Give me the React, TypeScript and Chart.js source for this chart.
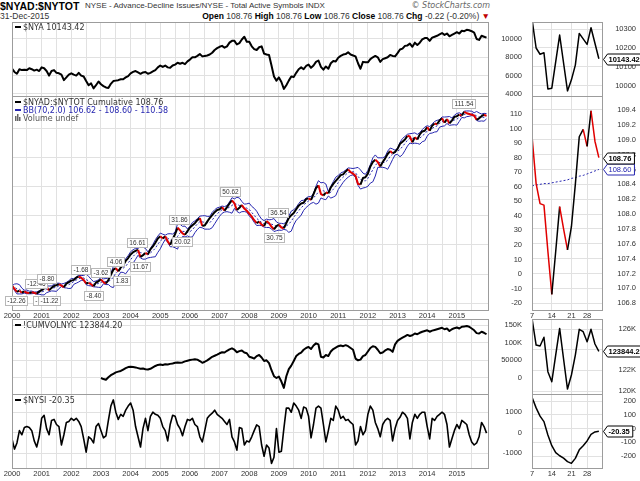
import React, { useEffect, useRef } from "react";
import { Chart, registerables } from "chart.js";

Chart.register(...registerables);

// ---------------- DATA ----------------
const FIRST_YEAR = 2000;
const yearLabels = [2000, 2001, 2002, 2003, 2004, 2005, 2006, 2007, 2008, 2009, 2010, 2011, 2012, 2013, 2014, 2015];

// monthly values, first = 1 Jan 2000 ... last = 31 Dec 2015
const nyaMonthly = [
  6760, 6400, 6200, 6700, 6600, 6650, 6600, 6800, 6700, 6550, 6650, 6500,
  6900, 6800, 6500, 6000, 6500, 6600, 6300, 6250, 6100, 5500, 5800, 6100,
  6250, 6100, 6000, 6300, 6000, 5900, 5400, 4950, 5150, 4600, 4950, 5350,
  5050, 4850, 4700, 4650, 5100, 5400, 5450, 5500, 5600, 5600, 5800, 5950,
  6250, 6400, 6500, 6350, 6200, 6350, 6400, 6200, 6300, 6450, 6600, 6900,
  7100, 6950, 7100, 6900, 6850, 7100, 7200, 7400, 7300, 7400, 7250, 7550,
  7750, 8000, 8000, 8150, 8350, 8100, 8150, 8200, 8300, 8500, 8800, 9000,
  9150, 9250, 9050, 9200, 9600, 9800, 9800, 9400, 9550, 9950, 10250, 9700,
  9700, 9200, 8900, 8800, 9100, 9200, 8400, 8300, 8250, 7100, 5900, 5450,
  5800, 5300, 4550, 4950, 5450, 5900, 5850, 6300, 6700, 6900, 6700, 7050,
  7200, 6850, 7100, 7500, 7650, 6950, 6650, 7000, 6750, 7350, 7600, 7550,
  7950, 8150, 8300, 8350, 8550, 8300, 8200, 8100, 7350, 6750, 7500, 7450,
  7450, 7800, 8000, 8150, 8000, 7500, 7800, 7900, 8000, 8250, 8150, 8100,
  8450, 8850, 8950, 9250, 9300, 9500, 9150, 9600, 9350, 9600, 9950, 10100,
  10100, 9800, 10150, 10250, 10350, 10500, 10650, 10450, 10600, 10300, 10450, 10600,
  10750, 10600, 10900, 10850, 11000, 10950, 10850, 10700, 10000, 9900, 10350, 10250,
  10143.42,
];

const adLineMonthly = [
  -8.0, -10.2, -12.26, -11.4, -12.8, -11.9, -12.9, -13.1, -12.46, -12.9, -13.55, -12.0,
  -11.0, -9.8, -8.8, -11.22, -9.5, -8.2, -7.6, -7.0, -8.0, -9.0, -6.5, -5.5,
  -4.5, -4.0, -2.5, -1.68, -2.5, -4.0, -6.5, -6.0, -7.0, -8.4, -5.8, -5.0,
  -3.62, -5.5, -6.5, -4.2, -0.5, 3.0, 4.06, 1.83, 4.5, 6.0, 9.0, 11.0,
  13.5, 15.0, 16.0, 16.61, 11.67, 13.0, 14.5, 13.5, 17.0, 19.0, 21.5, 24.5,
  26.0, 24.5, 26.0, 22.5, 20.02, 24.0, 27.5, 31.86, 30.0, 28.0, 27.0, 29.5,
  32.0, 33.5, 35.0, 37.0, 38.5, 33.0, 33.5, 36.0, 38.5, 40.5, 42.5, 44.0,
  44.5, 46.0, 43.5, 46.0, 48.5, 50.62, 48.5, 44.0, 45.5, 47.5, 45.0, 43.5,
  41.5, 39.5, 37.0, 35.0, 36.0, 34.0, 33.0, 36.54, 35.0, 32.5, 30.75, 33.0,
  34.0, 32.0, 31.5, 35.0, 38.5, 40.5, 42.0, 44.5, 47.0, 48.5, 49.0, 51.5,
  52.0, 51.0, 55.0, 59.0, 61.0, 55.0, 54.0, 56.0, 55.5, 59.5, 62.0, 64.0,
  66.0, 68.0, 68.5, 70.5, 72.0, 70.0, 69.0, 67.5, 62.0, 61.5, 66.0, 66.5,
  69.0, 74.0, 77.0, 78.5, 77.0, 74.0, 77.0, 79.5, 82.5, 84.5, 83.0, 84.0,
  86.0, 89.5, 91.0, 92.5, 95.0, 94.5, 90.5, 94.0, 92.5, 96.0, 98.0, 98.5,
  101.0, 98.5, 102.0, 103.5, 103.0, 105.5, 107.0, 104.0, 106.5, 103.5, 105.5, 108.0,
  108.5, 109.5, 109.0, 111.54, 110.5, 110.0, 109.5, 109.0, 106.0, 107.0, 108.5, 109.5,
  108.76,
];

// thousands of shares, series starts in 2003
const cumVolKMonthly = [
  null, null, null, null, null, null, null, null, null, null, null, null,
  null, null, null, null, null, null, null, null, null, null, null, null,
  null, null, null, null, null, null, null, null, null, null, null, null,
  0, -3, -5, 2, 8, 12, 16, 18, 20, 24, 28, 31,
  32, 31, 30, 28, 26, 27, 25, 24, 26, 30, 34, 37,
  38, 37, 39, 38, 40, 41, 43, 44, 43, 44, 47, 49,
  51, 52, 53, 52, 48, 43, 46, 50, 55, 60, 63, 66,
  70, 73, 72, 77, 81, 84, 80, 73, 76, 78, 72, 70,
  60, 58, 55, 62, 65, 58, 48, 50, 42, 22, 5, 0,
  4, -10, -28, 5, 25, 35, 48, 62, 68, 72, 80, 85,
  88, 82, 92, 98, 95, 60, 58, 65, 62, 75, 82, 86,
  90, 92, 90, 93, 90, 85, 80, 55, 50, 52, 62, 65,
  75, 85, 90, 88, 80, 70, 72, 78, 82, 80, 74, 95,
  105, 110, 114, 118, 122, 119, 121, 126, 124, 128, 131, 133,
  135, 131, 134, 136, 138, 140, 142, 138, 140, 133, 138, 141,
  143, 140, 145, 146, 147, 145, 140, 135, 127, 126, 131, 128,
  123.8442,
];

const nysiMonthly = [
  -300, -800, -500, 100, -100, 250, 300, 250, 100, -400, -700, -200,
  700, 850, 200, -100, 600, 650, 400, 300, -600, -100, 500, 550,
  700, 600, 700, 550, 300, -300, -950, -200, -300, -500, 300, 450,
  100, -250, -150, 600, 1300, 1600, 1000, 650, 900, 800, 1100, 1300,
  1450, 1100, 300, -200, -700, 200, 700, 100, 800, 1000, 900, 850,
  700, 300, 100, -400, 400, 850, 800, 400, 200, -150, 300, 650,
  600, 700, 400, 300, -200, -450, 100, 700, 850, 950, 1100, 900,
  800, 700, 550, 400, 650, -200, -450, -850, 250, 200, -600, -400,
  -450, -200, 100, 380, 300, -600, -1150, -600, -750, -1500, -1200, 200,
  -950, -900, 200, 1200, 1200, 1000, 1450, 1300, 1100, 700, 1250, 1200,
  800, -250, 400, 1200, 1300, 1200, 400, -450, 100, 700, 600, 1300,
  1100, 700, 800, 600, 650, 500, 400, -600, -400, 300, -100, 100,
  900, 1300, 1100, 500, 200, -200, 400, 600, 700, 600, -400, 200,
  600, 750, 1000, 900, 700, -300, 500, 900, 700, 900, 1000, 1000,
  300, -300, 700, 600, 800, 900, 1000, 900, 400, -700, -300, 100,
  400, 200, 600, 500, 400, -100, -450, -600, -500, -200, 500, 300,
  -20.35,
];

// December 2015 trading days (mini panels)
const decDays = [4, 7, 8, 9, 10, 11, 14, 15, 16, 17, 18, 21, 22, 23, 24, 28, 29, 30, 31];
const decTickDays = [7, 14, 21, 28];
const nyaDec = [10420, 10345, 10200, 10167, 10175, 9984, 9988, 10128, 10268, 10121, 9974, 10032, 10110, 10277, 10248, 10219, 10307, 10225, 10143.42];
const adLineDec = [109.6, 109.02, 108.41, 108.14, 108.12, 107.5, 106.92, 107.5, 108.1, 107.8, 107.52, 107.83, 108.4, 109.04, 109.14, 108.91, 109.39, 108.98, 108.76];
const bbMidDec = [108.36, 108.38, 108.39, 108.4, 108.41, 108.41, 108.42, 108.43, 108.44, 108.45, 108.46, 108.48, 108.49, 108.51, 108.52, 108.54, 108.56, 108.58, 108.6];
const cumVolKDec = [127.5, 126.9, 124.45, 124.35, 125.2, 121.87, 120.9, 123.5, 126.06, 123.1, 120.19, 121.55, 123.48, 125.97, 125.74, 124.77, 125.97, 124.55, 123.8442];
const nysiDec = [300, 224, 150, 90, 50, -47, -125, -175, -198, -215, -241, -253, -217, -155, -125, -90, -42, -25, -20.35];

// axis ticks
const nyaTicks = [4000, 6000, 8000, 10000];
const adTicks = [-20, -10, 0, 10, 20, 30, 40, 50, 60, 70, 80, 90, 100, 110];
const volTicks = [0, 50, 100, 150];
const nysiTicks = [-1000, 0, 1000];
const nyaDecTicks = [10000, 10100, 10200, 10300];
const adDecTicks = [106.8, 107.0, 107.2, 107.4, 107.6, 107.8, 108.0, 108.2, 108.4, 108.6, 108.8, 109.0, 109.2, 109.4];
const volDecTicks = [120, 122, 124, 126];
const nysiDecTicks = [-200, -100, 0, 100, 200];

// peak / trough annotations on the A-D line (index into adLineMonthly)
const adNotes = [2, 8, 10, 14, 15, 27, 33, 36, 42, 43, 51, 52, 64, 67, 89, 103, 106, 183];
const adNoteOffsets = [
  [-1, 9], [4, -9], [7, 7], [0, -8], [0, 10], [2, -7], [0, 9], [0, -7], [0, -7], [3, 9],
  [-1, -7], [-1, 9], [12, -3], [1, -8], [-2, -9], [11, -8], [0, 8], [-1, -8.5],
];

// ---------------- STYLE ----------------
const GRID = "#e1e1e1";
const BORDER = "#9c9c9c";
const RED = "#e00000";
const BLUE = "#2626b0";
const TICK_COLOR = "#333";
const TICK_FONT = { family: "'Liberation Sans', Arial, sans-serif", size: 7.5 };
const LEG_FONT = "8px 'DejaVu Sans', sans-serif";
const NOTE_FONT = "6.5px 'Liberation Sans', Arial, sans-serif";
const TAG_FONT = "7.5px 'Liberation Sans', Arial, sans-serif";

const MAIN_L = 12, MAIN_R = 488;
const MINI_L = 532, MINI_R = 602;
const AXIS_W = 34;

function area(l: number, r: number, t: number, b: number, xh: number) {
  return { left: l, right: 640 - r - AXIS_W, top: t, bottom: 481 - b - xh };
}

function bollinger(values: number[], n: number, k: number) {
  const up: number[] = [], mid: number[] = [], lo: number[] = [];
  values.forEach((_, i) => {
    const w = values.slice(Math.max(0, i - n + 1), i + 1);
    const m = w.reduce((s, v) => s + v, 0) / w.length;
    const sd = Math.sqrt(w.reduce((s, v) => s + (v - m) * (v - m), 0) / w.length);
    up.push(m + k * sd); mid.push(m); lo.push(m - k * sd);
  });
  return { up, mid, lo };
}

const monthly = (vals: (number | null)[]) => vals.map((v, i) => ({ x: FIRST_YEAR + i / 12, y: v }));
const daily = (vals: number[]) => vals.map((v, i) => ({ x: i, y: v }));

function lineDs(data: any[], color: string, width: number, extra: any = {}) {
  return {
    data, borderColor: color, borderWidth: width, pointRadius: 0, pointHoverRadius: 0,
    fill: false, tension: 0, clip: 0, borderJoinStyle: "round", spanGaps: false, ...extra,
  };
}

const upDownSegment = {
  borderColor: (c: any) => (c.p1.parsed.y < c.p0.parsed.y ? RED : "#000"),
};

function mainX(show: boolean) {
  const ticks: number[] = [];
  yearLabels.forEach((y) => { ticks.push(y, y + 0.5); });
  return {
    type: "linear", min: 2000, max: 2016.05, bounds: "data",
    afterBuildTicks: (s: any) => { s.ticks = ticks.map((value) => ({ value })); },
    afterFit: (s: any) => { s.height = show ? 12 : 0; },
    ticks: {
      display: show, autoSkip: false, maxRotation: 0, minRotation: 0, padding: 1,
      font: TICK_FONT, color: TICK_COLOR,
      callback: (v: number) => (Number.isInteger(v) && yearLabels.includes(v) ? String(v) : ""),
    },
    grid: { color: GRID, drawTicks: false, lineWidth: 1 },
    border: { display: false },
  };
}

function miniX(show: boolean) {
  return {
    type: "linear", min: 0.95, max: 18.8, bounds: "data",
    afterBuildTicks: (s: any) => { s.ticks = decTickDays.map((d) => ({ value: decDays.indexOf(d) })); },
    afterFit: (s: any) => { s.height = show ? 12 : 0; },
    ticks: {
      display: show, autoSkip: false, maxRotation: 0, minRotation: 0, padding: 1,
      font: TICK_FONT, color: TICK_COLOR,
      callback: (v: number) => String(decDays[v]),
    },
    grid: { color: GRID, drawTicks: false, lineWidth: 1 },
    border: { display: false },
  };
}

function yAxis(min: number, max: number, ticks: number[], fmt: (v: number) => string, pad: number, gridFilter?: (v: number) => boolean) {
  return {
    type: "linear", position: "right", min, max, bounds: "data",
    afterBuildTicks: (s: any) => { s.ticks = ticks.map((value) => ({ value })); },
    afterFit: (s: any) => { s.width = AXIS_W; },
    ticks: { font: TICK_FONT, color: TICK_COLOR, padding: pad, crossAlign: "far", callback: (v: number) => fmt(v) },
    grid: {
      drawTicks: false, lineWidth: 1,
      color: (c: any) => (gridFilter && c.tick && !gridFilter(c.tick.value) ? "rgba(0,0,0,0)" : GRID),
    },
    border: { display: false },
  };
}

type Decor = {
  legend?: { text: string; color: string; textColor: string; dy: number; icon: "dash" | "bars" }[];
  notes?: { x: number; y: number; text: string; dx: number; dy: number }[];
  tags?: { value: number; text: string; color: string; bold: boolean }[];
};

function decorPlugin(d: Decor) {
  return {
    id: "decor",
    afterDraw(chart: any) {
      const { ctx, chartArea: a } = chart;
      const xs = chart.scales.x, ys = chart.scales.y;
      ctx.save();
      ctx.strokeStyle = BORDER;
      ctx.lineWidth = 1;
      ctx.strokeRect(Math.round(a.left) + 0.5, Math.round(a.top) + 0.5, Math.round(a.right - a.left), Math.round(a.bottom - a.top));

      (d.notes || []).forEach((n) => {
        const px = xs.getPixelForValue(n.x) + n.dx;
        const py = ys.getPixelForValue(n.y) + n.dy;
        ctx.font = NOTE_FONT;
        const w = Math.round(ctx.measureText(n.text).width + 4);
        const h = 9;
        const bx = Math.round(px - w / 2), by = Math.round(py - h / 2);
        ctx.fillStyle = "rgba(255,255,255,0.95)";
        ctx.fillRect(bx, by, w, h);
        ctx.strokeStyle = "#b8b8b8";
        ctx.strokeRect(bx + 0.5, by + 0.5, w, h);
        ctx.fillStyle = "#333";
        ctx.textAlign = "center";
        ctx.textBaseline = "middle";
        ctx.fillText(n.text, bx + w / 2 + 0.5, by + h / 2 + 1);
      });

      (d.legend || []).forEach((l) => {
        const y = Math.round(a.top + l.dy);
        const x0 = a.left + 3;
        if (l.icon === "dash") {
          ctx.fillStyle = l.color;
          ctx.fillRect(x0, y - 1, 6, 2);
        } else {
          ctx.fillStyle = l.color;
          ctx.fillRect(x0, y - 2, 1.5, 5);
          ctx.fillRect(x0 + 2, y - 4, 1.5, 7);
          ctx.fillRect(x0 + 4, y - 1, 1.5, 4);
        }
        ctx.font = LEG_FONT;
        ctx.fillStyle = l.textColor;
        ctx.textAlign = "left";
        ctx.textBaseline = "middle";
        ctx.fillText(l.text, x0 + 8, y + 0.5);
      });

      (d.tags || []).forEach((t) => {
        const y = Math.round(ys.getPixelForValue(t.value)) + 0.5;
        const x = Math.round(a.right) + 1.5;
        ctx.font = (t.bold ? "bold " : "") + TAG_FONT;
        const w = ctx.measureText(t.text).width + 8;
        ctx.beginPath();
        ctx.moveTo(x, y);
        ctx.lineTo(x + 4, y - 5.5);
        ctx.lineTo(x + w, y - 5.5);
        ctx.lineTo(x + w, y + 5.5);
        ctx.lineTo(x + 4, y + 5.5);
        ctx.closePath();
        ctx.fillStyle = "#fff";
        ctx.fill();
        ctx.strokeStyle = t.color;
        ctx.lineWidth = 1;
        ctx.stroke();
        ctx.fillStyle = t.color;
        ctx.textAlign = "left";
        ctx.textBaseline = "middle";
        ctx.fillText(t.text, x + 5, y + 0.5);
      });
      ctx.restore();
    },
  };
}

function panel(padding: any, x: any, y: any, datasets: any[], decor: Decor) {
  return {
    type: "line",
    data: { datasets },
    options: {
      animation: false, responsive: false, maintainAspectRatio: false, devicePixelRatio: 1, events: [],
      layout: { autoPadding: false, padding },
      plugins: { legend: { display: false }, tooltip: { enabled: false } },
      scales: { x, y },
    },
    plugins: [decorPlugin(decor)],
  };
}

const fmtInt = (v: number) => String(v);
const fmtVol = (v: number) => (v === 0 ? "0" : v < 100 ? String(v * 1000) : v + "K");

function buildConfigs() {
  const bb = bollinger(adLineMonthly, 4, 2);
  const adPts = monthly(adLineMonthly);
  const notes = adNotes.map((i, k) => ({
    x: FIRST_YEAR + i / 12, y: adLineMonthly[i], text: adLineMonthly[i].toFixed(2),
    dx: adNoteOffsets[k][0], dy: adNoteOffsets[k][1],
  }));
  const last = (a: any[]) => a[a.length - 1];

  return [
    // P1 NYA
    panel(area(MAIN_L, MAIN_R, 22, 96, 0), mainX(false), yAxis(3770, 11858, nyaTicks, fmtInt, 3),
      [lineDs(monthly(nyaMonthly), "#000", 2)],
      { legend: [{ text: "$NYA " + last(nyaMonthly).toFixed(2), color: "#000", textColor: "#333", dy: 4.5, icon: "dash" }] }),
    // M1
    panel(area(MINI_L, MINI_R, 22, 96, 0), miniX(false), yAxis(9947, 10337, nyaDecTicks, fmtInt, 4),
      [lineDs(daily(nyaDec), "#000", 1.5)],
      { tags: [{ value: last(nyaDec), text: last(nyaDec).toFixed(2), color: "#000", bold: true }] }),
    // P2 A-D cumulative
    panel(area(MAIN_L, MAIN_R, 96, 310, 12), mainX(true),
      yAxis(-24.7, 122.37, adTicks, fmtInt, 5, (v) => v % 20 === 0),
      [
        lineDs(adPts, "#000", 2, { segment: upDownSegment }),
        lineDs(monthly(bb.up), BLUE, 1),
        lineDs(monthly(bb.lo), BLUE, 1),
        lineDs(monthly(bb.mid), BLUE, 1, { borderDash: [2, 2] }),
      ],
      {
        notes,
        legend: [
          { text: "$NYAD:$NYTOT Cumulative " + last(adLineMonthly).toFixed(2), color: "#000", textColor: "#333", dy: 6, icon: "dash" },
          { text: "BB(70,2.0) 106.62 - 108.60 - 110.58", color: BLUE, textColor: BLUE, dy: 14, icon: "dash" },
          { text: "Volume undef", color: "#666", textColor: "#555", dy: 21.5, icon: "bars" },
        ],
      }),
    // M2
    panel(area(MINI_L, MINI_R, 96, 310, 12), miniX(true), yAxis(106.71, 109.588, adDecTicks, (v) => v.toFixed(1), 4),
      [
        lineDs(daily(adLineDec), "#000", 1.5, { segment: upDownSegment }),
        lineDs(daily(bbMidDec), BLUE, 1, { borderDash: [2, 2] }),
      ],
      {
        tags: [
          { value: last(bbMidDec), text: last(bbMidDec).toFixed(2), color: BLUE, bold: false },
          { value: last(adLineDec), text: last(adLineDec).toFixed(2), color: "#000", bold: true },
        ],
      }),
    // P3 cumulative volume
    panel(area(MAIN_L, MAIN_R, 319, 394, 0), mainX(false), yAxis(-45.3, 167, volTicks, fmtVol, 3),
      [lineDs(monthly(cumVolKMonthly), "#000", 2)],
      { legend: [{ text: "!CUMVOLNYC " + (last(cumVolKMonthly) * 1000).toFixed(2), color: "#000", textColor: "#333", dy: 6, icon: "dash" }] }),
    // M3
    panel(area(MINI_L, MINI_R, 319, 394, 0), miniX(false), yAxis(119.71, 126.97, volDecTicks, (v) => v + "K", 4),
      [lineDs(daily(cumVolKDec), "#000", 1.5)],
      { tags: [{ value: last(cumVolKDec), text: (last(cumVolKDec) * 1000).toFixed(2), color: "#000", bold: true }] }),
    // P4 NYSI
    panel(area(MAIN_L, MAIN_R, 394, 468, 12), mainX(true), yAxis(-1723, 1889, nysiTicks, fmtInt, 3),
      [lineDs(monthly(nysiMonthly), "#000", 1.6)],
      { legend: [{ text: "$NYSI " + last(nysiMonthly).toFixed(2), color: "#000", textColor: "#333", dy: 6, icon: "dash" }] }),
    // M4
    panel(area(MINI_L, MINI_R, 394, 468, 12), miniX(true), yAxis(-287, 251, nysiDecTicks, fmtInt, 4),
      [lineDs(daily(nysiDec), "#000", 1.5)],
      { tags: [{ value: last(nysiDec), text: last(nysiDec).toFixed(2), color: "#000", bold: true }] }),
  ];
}

const hdr: any = { position: "absolute", whiteSpace: "nowrap", lineHeight: "10px" };

export default function App() {
  const refs = useRef<(HTMLCanvasElement | null)[]>([]);
  useEffect(() => {
    const cfgs = buildConfigs();
    const charts = cfgs.map((cfg, i) => new Chart(refs.current[i] as HTMLCanvasElement, cfg as any));
    return () => charts.forEach((c) => c.destroy());
  }, []);
  return (
    <div style={{ position: "fixed", left: 0, top: 0, width: 640, height: 481, background: "#fff", overflow: "hidden" }}>
      <div style={{ ...hdr, left: 0, top: 0, font: "bold 10.5px 'Liberation Sans', Arial, sans-serif", color: "#000", lineHeight: "11px" }}>$NYAD:$NYTOT</div>
      <div style={{ ...hdr, left: 85, top: 1, font: "8px 'Liberation Sans', Arial, sans-serif", color: "#333" }}>NYSE - Advance-Decline Issues/NYSE - Total Active Symbols INDX</div>
      <div style={{ ...hdr, right: 150, top: 1, font: "italic 8px 'DejaVu Sans', sans-serif", color: "#666" }}>© StockCharts.com</div>
      <div style={{ ...hdr, left: 0, top: 11, font: "8.5px 'Liberation Sans', Arial, sans-serif", color: "#333" }}>31-Dec-2015</div>
      <div style={{ ...hdr, right: 150, top: 11, font: "8.5px 'Liberation Sans', Arial, sans-serif", color: "#333" }}>
        <b style={{ color: "#000" }}>Open</b> 108.76 <b style={{ color: "#000" }}>High</b> 108.76 <b style={{ color: "#000" }}>Low</b> 108.76{" "}
        <b style={{ color: "#000" }}>Close</b> 108.76 <b style={{ color: "#000" }}>Chg</b> -0.22 (-0.20%) <span style={{ color: "#c00000" }}>▼</span>
      </div>
      {Array.from({ length: 8 }).map((_, i) => (
        <canvas
          key={i}
          ref={(el) => { refs.current[i] = el; }}
          width={640}
          height={481}
          style={{ position: "absolute", left: 0, top: 0, width: 640, height: 481 }}
        />
      ))}
    </div>
  );
}
